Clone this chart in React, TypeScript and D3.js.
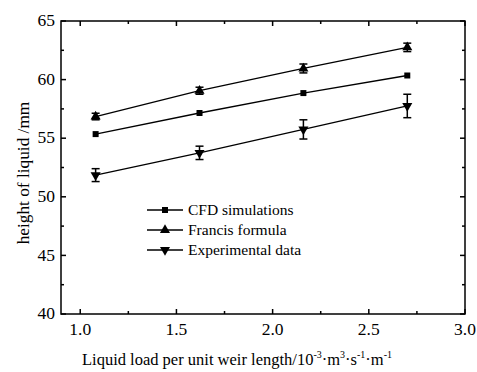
import { useEffect, useRef } from "react";
import * as d3 from "d3";

const loads = [1.08, 1.62, 2.16, 2.7];
const cfd = [55.35, 57.15, 58.85, 60.35];
const francis = [56.85, 59.05, 60.95, 62.75];
const francisErr = [0.28, 0.3, 0.38, 0.36];
const experimental = [51.85, 53.75, 55.75, 57.75];
const experimentalErr = [0.55, 0.57, 0.82, 1.0];
const xTicks = [1.0, 1.5, 2.0, 2.5, 3.0];
const yTicks = [40, 45, 50, 55, 60, 65];
const legendNames = ["CFD simulations", "Francis formula", "Experimental data"];

const width = 477;
const height = 372;
const FONT = "Liberation Serif, Times New Roman, DejaVu Serif, serif";

export default function App() {
  const svgRef = useRef<SVGSVGElement>(null);

  useEffect(() => {
    const svg = d3.select(svgRef.current);
    svg.selectAll("*").remove();

    const margin = { top: 21, right: 12, bottom: 58, left: 61 };
    const innerWidth = width - margin.left - margin.right;
    const innerHeight = height - margin.top - margin.bottom;

    const x = d3.scaleLinear().domain([0.9, 3.0]).range([0, innerWidth]);
    const y = d3.scaleLinear().domain([40, 65]).range([innerHeight, 0]);

    const g = svg.append("g").attr("transform", `translate(${margin.left},${margin.top})`);

    // frame
    g.append("rect")
      .attr("width", innerWidth)
      .attr("height", innerHeight)
      .attr("fill", "none")
      .attr("stroke", "#000")
      .attr("stroke-width", 1.5);

    // inward ticks, all four sides
    const xMinor = d3.range(1.0, 3.0001, 0.25);
    const yMinor = d3.range(40, 65.001, 2.5);
    xMinor.forEach((v, i) => {
      const len = i % 2 === 0 ? 5 : 3;
      g.append("line").attr("x1", x(v)).attr("x2", x(v)).attr("y1", innerHeight).attr("y2", innerHeight - len)
        .attr("stroke", "#000").attr("stroke-width", 1.5);
      g.append("line").attr("x1", x(v)).attr("x2", x(v)).attr("y1", 0).attr("y2", len)
        .attr("stroke", "#000").attr("stroke-width", 1.5);
    });
    yMinor.forEach((v, i) => {
      const len = i % 2 === 0 ? 5 : 3;
      g.append("line").attr("x1", 0).attr("x2", len).attr("y1", y(v)).attr("y2", y(v))
        .attr("stroke", "#000").attr("stroke-width", 1.5);
      g.append("line").attr("x1", innerWidth).attr("x2", innerWidth - len).attr("y1", y(v)).attr("y2", y(v))
        .attr("stroke", "#000").attr("stroke-width", 1.5);
    });

    // tick labels
    g.selectAll(".xt")
      .data(xTicks)
      .enter()
      .append("text")
      .attr("x", d => x(d))
      .attr("y", innerHeight + 21)
      .attr("text-anchor", "middle")
      .style("font-family", FONT)
      .attr("font-size", 17.5)
      .text(d => d.toFixed(1));

    g.selectAll(".yt")
      .data(yTicks)
      .enter()
      .append("text")
      .attr("x", -6)
      .attr("y", d => y(d))
      .attr("dy", "0.3em")
      .attr("text-anchor", "end")
      .style("font-family", FONT)
      .attr("font-size", 17.5)
      .text(d => d);

    // axis titles
    svg.append("text")
      .attr("transform", `translate(29,173) rotate(-90)`)
      .attr("text-anchor", "middle")
      .style("font-family", FONT)
      .attr("font-size", 17.3)
      .text("height of liquid /mm");

    const xt = svg.append("text")
      .attr("x", 237)
      .attr("y", 365)
      .attr("text-anchor", "middle")
      .style("font-family", FONT)
      .attr("font-size", 16.5);
    const parts: [string, string][] = [
      ["Liquid load per unit weir length/10", "-3"],
      ["\u00b7m", "3"],
      ["\u00b7s", "-1"],
      ["\u00b7m", "-1"],
    ];
    parts.forEach(([base, sup], i) => {
      xt.append("tspan").attr("dy", i === 0 ? 0 : 7).text(base);
      xt.append("tspan").attr("dy", -7).attr("font-size", 10).text(sup);
    });

    const line = d3.line<number>().x((_, i) => x(loads[i])).y(d => y(d));

    const square = d3.symbol().type(d3.symbolSquare).size(36);
    const triUp = d3.symbol().type(d3.symbolTriangle).size(44);

    const drawErr = (vals: number[], errs: number[]) => {
      vals.forEach((v, i) => {
        const cx = x(loads[i]);
        const y0 = y(v - errs[i]);
        const y1 = y(v + errs[i]);
        g.append("line").attr("x1", cx).attr("x2", cx).attr("y1", y0).attr("y2", y1)
          .attr("stroke", "#000").attr("stroke-width", 1.5);
        [y0, y1].forEach(yy => {
          g.append("line").attr("x1", cx - 4).attr("x2", cx + 4).attr("y1", yy).attr("y2", yy)
            .attr("stroke", "#000").attr("stroke-width", 1.5);
        });
      });
    };

    drawErr(francis, francisErr);
    drawErr(experimental, experimentalErr);

    const series = [
      { vals: cfd, path: square(), rot: 0 },
      { vals: francis, path: triUp(), rot: 0 },
      { vals: experimental, path: triUp(), rot: 180 },
    ];

    series.forEach(s => {
      g.append("path")
        .datum(s.vals)
        .attr("d", line)
        .attr("fill", "none")
        .attr("stroke", "#000")
        .attr("stroke-width", 1.3);
      g.selectAll(null)
        .data(s.vals)
        .enter()
        .append("path")
        .attr("d", s.path)
        .attr("transform", (d, i) => `translate(${x(loads[i])},${y(d)}) rotate(${s.rot})`)
        .attr("fill", "#000");
    });

    // legend
    series.forEach((s, i) => {
      const ly = 210 + i * 20;
      svg.append("line").attr("x1", 147).attr("x2", 183).attr("y1", ly).attr("y2", ly)
        .attr("stroke", "#000").attr("stroke-width", 1.3);
      svg.append("path")
        .attr("d", s.path)
        .attr("transform", `translate(165,${ly}) rotate(${s.rot})`)
        .attr("fill", "#000");
      svg.append("text")
        .attr("x", 188)
        .attr("y", ly)
        .attr("dy", "0.35em")
        .style("font-family", FONT)
        .attr("font-size", 15.5)
        .text(legendNames[i]);
    });
  }, []);

  return (
    <svg
      ref={svgRef}
      width={width}
      height={height}
      style={{ position: "absolute", left: 0, top: 0, background: "#fff" }}
    />
  );
}
